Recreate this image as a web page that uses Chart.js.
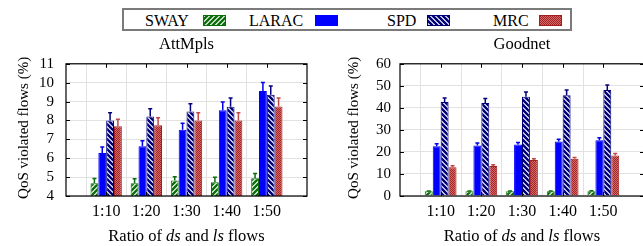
<!DOCTYPE html>
<html><head><meta charset="utf-8">
<script src="https://cdn.jsdelivr.net/npm/chart.js@4"></script>
<style>
html,body{margin:0;padding:0;background:#fff;overflow:hidden;width:643px;height:246px;}
#wrap{position:relative;width:643px;height:246px;overflow:hidden;font-family:"Liberation Serif","Times New Roman",Times,"DejaVu Serif",serif;}
#c1{position:absolute;left:0;top:32px;}
#c2{position:absolute;left:320px;top:32px;}
#legendBox{position:absolute;left:122px;top:8px;width:450px;height:23px;box-sizing:border-box;border:2px solid #7a7a7a;}
.lt{position:absolute;top:12.5px;font-size:16px;line-height:16px;color:#000;white-space:nowrap;}
.sw{position:absolute;top:15px;}
</style>
</head><body>
<div id="wrap">
  <div id="legendBox"></div>
  <canvas id="c1" width="320" height="214"></canvas>
  <canvas id="c2" width="340" height="214"></canvas>
</div>
<script>
// ---- data ----
const categories = ['1:10', '1:20', '1:30', '1:40', '1:50'];
const seriesNames = ['SWAY', 'LARAC', 'SPD', 'MRC'];

const attTitle = 'AttMpls';
const attSWAY  = [4.67, 4.67, 4.82, 4.73, 4.94];
const attLARAC = [6.28, 6.63, 7.51, 8.54, 9.56];
const attSPD   = [8.0, 8.21, 8.48, 8.73, 9.36];
const attMRC   = [7.69, 7.74, 8.0, 8.0, 8.74];
const attSWAYErr  = [0.26, 0.25, 0.2, 0.26, 0.25];
const attLARACErr = [0.31, 0.3, 0.34, 0.44, 0.45];
const attSPDErr   = [0.41, 0.41, 0.41, 0.46, 0.46];
const attMRCErr   = [0.37, 0.4, 0.41, 0.41, 0.45];
const attYTicks = [4, 11, 1]; // min, max, step

const goodTitle = 'Goodnet';
const goodSWAY  = [2.1, 2.1, 2.1, 2.1, 2.2];
const goodLARAC = [22.6, 22.9, 23.4, 24.7, 25.3];
const goodSPD   = [42.7, 42.2, 45.1, 45.7, 48.1];
const goodMRC   = [13.0, 13.6, 16.3, 16.9, 18.4];
const goodSWAYErr  = [0.2, 0.2, 0.2, 0.2, 0.2];
const goodLARACErr = [1.1, 1.1, 0.9, 1.1, 1.1];
const goodSPDErr   = [1.8, 2.0, 2.1, 2.4, 2.3];
const goodMRCErr   = [0.7, 0.6, 0.6, 0.6, 0.9];
const goodYTicks = [0, 60, 10];

const yTitle = 'QoS violated flows (%)';
const xTitleParts = [['Ratio of ', false], ['ds', true], [' and ', false], ['ls', true], [' flows', false]];

// ---- styles ----
const FONT = '"Liberation Serif", "Times New Roman", Times, "DejaVu Serif", serif';
const mainColors = ['#0b6e0b', '#0000ff', '#00007a', '#a02020'];
const errColors  = ['#0b6e0b', '#0000ee', '#00007a', '#c04848'];

function makePattern(i) {
  const c = document.createElement('canvas');
  const s = (i === 3) ? 2 : 5;
  c.width = s; c.height = s;
  const g = c.getContext('2d');
  if (i === 1) { g.fillStyle = mainColors[1]; g.fillRect(0,0,s,s); return g.createPattern(c,'repeat'); }
  if (i === 3) {
    g.fillStyle = '#a82424'; g.fillRect(0,0,s,s);
    g.fillStyle = '#d26a6a';
    g.fillRect(1,0,1,1); g.fillRect(0,1,1,1);
    return g.createPattern(c,'repeat');
  }
  g.fillStyle = '#fff'; g.fillRect(0,0,s,s);
  g.strokeStyle = mainColors[i]; g.lineWidth = 2.4; g.lineCap = 'square';
  g.beginPath();
  if (i === 0) { // '/'
    for (let k = -1; k <= 1; k++) { g.moveTo(k*s - 1, s + 1); g.lineTo(k*s + s + 1, -1); }
  } else { // '\'
    for (let k = -1; k <= 1; k++) { g.moveTo(k*s - 1, -1); g.lineTo(k*s + s + 1, s + 1); }
  }
  g.stroke();
  return g.createPattern(c,'repeat');
}
const patterns = [0,1,2,3].map(makePattern);

const errPlugin = {
  id: 'errbars',
  afterDatasetsDraw(chart) {
    const ctx = chart.ctx, ys = chart.scales.y;
    chart.data.datasets.forEach((ds, di) => {
      const meta = chart.getDatasetMeta(di);
      meta.data.forEach((el, j) => {
        const v = ds.data[j], e = ds.errors[j];
        if (v == null || e == null) return;
        const yt = ys.getPixelForValue(v + e);
        ctx.save();
        ctx.strokeStyle = ds.errColor; ctx.lineWidth = 1.5;
        ctx.beginPath();
        ctx.moveTo(el.x, el.y); ctx.lineTo(el.x, yt);
        ctx.moveTo(el.x - 2, yt); ctx.lineTo(el.x + 2, yt);
        ctx.stroke();
        ctx.restore();
      });
    });
  }
};

const framePlugin = {
  id: 'frame',
  afterDraw(chart, args, opts) {
    const ctx = chart.ctx, a = chart.chartArea, ys = chart.scales.y, xs = chart.scales.x;
    ctx.save();
    ctx.strokeStyle = '#000'; ctx.lineWidth = 1.2;
    ctx.strokeRect(a.left, a.top, a.right - a.left, a.bottom - a.top);
    ctx.lineWidth = 1;
    ctx.beginPath();
    ys.ticks.forEach(t => {
      const y = Math.round(ys.getPixelForValue(t.value)) + 0.5;
      ctx.moveTo(a.left, y); ctx.lineTo(a.left + 4, y);
      ctx.moveTo(a.right, y); ctx.lineTo(a.right - 4, y);
    });
    for (let i = 1; i <= categories.length; i++) {
      const x = Math.round(xs.getPixelForValue(i)) + 0.5;
      ctx.moveTo(x, a.bottom); ctx.lineTo(x, a.bottom - 4);
      ctx.moveTo(x, a.top); ctx.lineTo(x, a.top + 4);
    }
    ctx.stroke();
    // y title
    ctx.fillStyle = '#000';
    ctx.font = '15px ' + FONT;
    ctx.textAlign = 'center'; ctx.textBaseline = 'middle';
    ctx.save();
    ctx.translate(opts.yTitleX, (a.top + a.bottom) / 2 - 2);
    ctx.rotate(-Math.PI / 2);
    ctx.fillText(yTitle, 0, 0);
    ctx.restore();
    // x title with italic parts
    const fN = '16.5px ' + FONT, fI = 'italic 16.5px ' + FONT;
    let total = 0;
    xTitleParts.forEach(p => { ctx.font = p[1] ? fI : fN; total += ctx.measureText(p[0]).width; });
    let x = (a.left + a.right) / 2 - total / 2;
    ctx.textAlign = 'left'; ctx.textBaseline = 'alphabetic';
    xTitleParts.forEach(p => { ctx.font = p[1] ? fI : fN; ctx.fillText(p[0], x, opts.xTitleY); x += ctx.measureText(p[0]).width; });
    ctx.restore();
  }
};

function makeChart(id, title, vals, errs, yt, yWidth, padRight, yPad, yTitleX) {
  const pad = a => [null, ...a, null];
  new Chart(document.getElementById(id), {
    type: 'bar',
    data: {
      labels: ['', ...categories, ''],
      datasets: seriesNames.map((n, i) => ({
        label: n, data: pad(vals[i]), errors: pad(errs[i]),
        backgroundColor: patterns[i], borderColor: mainColors[i], borderWidth: 1,
        errColor: errColors[i], categoryPercentage: 0.78, barPercentage: 1
      }))
    },
    options: {
      responsive: false, animation: false, devicePixelRatio: 1,
      layout: { padding: { left: 0, right: padRight, top: 0, bottom: 0 } },
      plugins: {
        legend: { display: false }, tooltip: { enabled: false },
        title: { display: true, text: title, fullSize: false, color: '#000',
                 font: { family: FONT, size: 16.5, weight: 'normal' }, padding: { top: 3, bottom: 9 } },
        frame: { yTitleX: yTitleX, xTitleY: 209 }
      },
      scales: {
        x: {
          offset: false,
          grid: { color: c => (c.index > 0 && c.index < categories.length + 1) ? '#e2e2e2' : 'rgba(0,0,0,0)', drawTicks: false },
          border: { display: false },
          ticks: { color: '#000', font: { family: FONT, size: 16 }, padding: 6, autoSkip: false, maxRotation: 0 },
          afterFit: s => { s.height = 50; }
        },
        y: {
          min: yt[0], max: yt[1],
          grid: { color: '#e2e2e2', drawTicks: false },
          border: { display: false },
          ticks: { stepSize: yt[2], autoSkip: false, color: '#000', font: { family: FONT, size: 15 }, padding: yPad },
          afterFit: s => { s.width = yWidth; }
        }
      }
    },
    plugins: [errPlugin, framePlugin]
  });
}

makeChart('c1', attTitle, [attSWAY, attLARAC, attSPD, attMRC], [attSWAYErr, attLARACErr, attSPDErr, attMRCErr], attYTicks, 66, 13, 12, 24);
makeChart('c2', goodTitle, [goodSWAY, goodLARAC, goodSPD, goodMRC], [goodSWAYErr, goodLARACErr, goodSPDErr, goodMRCErr], goodYTicks, 80, 16, 9, 34);

// ---- legend ----
const legendTextX = [145, 249, 387, 493];
const legendSwatchX = [203, 315, 427, 539];
const wrap = document.getElementById('wrap');
seriesNames.forEach((n, i) => {
  const t = document.createElement('div');
  t.className = 'lt'; t.textContent = n; t.style.left = legendTextX[i] + 'px';
  wrap.appendChild(t);
  const c = document.createElement('canvas');
  c.className = 'sw'; c.width = 23; c.height = 11; c.style.left = legendSwatchX[i] + 'px';
  const g = c.getContext('2d');
  g.fillStyle = patterns[i]; g.fillRect(0, 0, 23, 11);
  g.strokeStyle = mainColors[i]; g.lineWidth = 1; g.strokeRect(0.5, 0.5, 22, 10);
  wrap.appendChild(c);
});
</script>
</body></html>
